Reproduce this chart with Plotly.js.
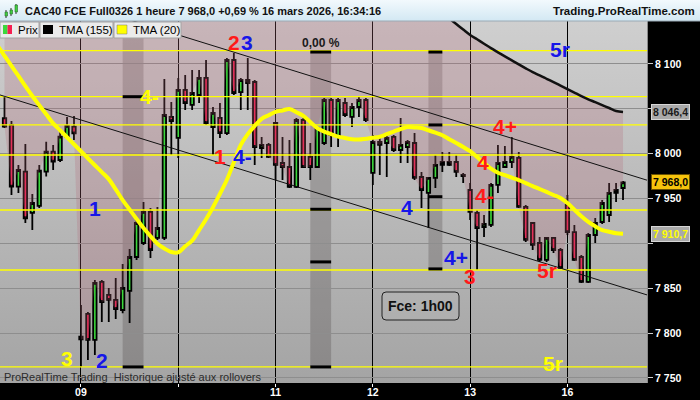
<!DOCTYPE html>
<html><head><meta charset="utf-8">
<script src="https://cdn.plot.ly/plotly-3.0.1.min.js"></script>
<style>
html,body{margin:0;padding:0;background:#000;}
#wrap{position:relative;width:700px;height:400px;overflow:hidden;background:#000;}
#hdr{position:absolute;left:0;top:0;width:700px;height:21px;background:linear-gradient(#f2f9fd,#d3e8f3);}
#bg{position:absolute;left:0;top:21px;width:647px;height:362px;background:linear-gradient(#cfcfcf,#a4a4a4);}
#chart{position:absolute;left:0;top:0;width:700px;height:400px;}
</style></head><body>
<div id="wrap"><div id="hdr"></div><div id="bg"></div><div id="chart"></div></div>
<script>
// ---------- data ----------
const dayTickIdx = [11, 25, 39, 53, 67, 81];
const dayTickText = ['09', '', '11', '12', '13', '16'];
const priceTicks = [7750, 7800, 7850, 7900, 7950, 8000, 8050, 8100];
const priceTickText = ['7 750', '7 800', '7 850', '', '7 950', '8 000', '', '8 100'];

const open = [8039.5,8032.0,7963.2,7979.9,7933.9,7941.7,7979.9,8002.2,7992.9,8018.9,8030.1,
 7796.0,7821.3,7792.3,7857.0,7842.5,7837.0,7825.7,7847.0,7884.8,7900.4,7935.0,7906.0,7906.0,8040.9,
 8017.5,8071.0,8054.3,8065.4,8084.4,8029.7,8039.8,8023.0,8104.4,8068.7,8082.1,8079.9,8006.3,8009.7,
 8034.2,7989.6,7985.1,7962.9,8037.5,7996.3,7985.1,8011.9,8059.8,8018.6,8056.5,8040.9,8052.0,8059.8,
 7978.5,8013.0,8011.9,8018.6,8004.1,8007.4,8011.9,7974.0,7956.2,7972.9,7987.4,7987.4,7990.7,7976.2,
 7959.5,7933.9,7918.2,7920.5,7965.1,7985.1,7990.7,7995.2,7940.6,7922.7,7900.4,7881.5,7906.0,7892.6,
 7942.8,7912.6,7884.8,7857.0,7909.3,7923.8,7931.6,7956.2,7961.7];
const high = [8063.5,8036.4,7987.4,8010.8,7955.0,7987.4,8013.4,8009.7,8026.4,8040.9,8042.0,
 7831.3,7823.5,7859.2,7859.2,7850.3,7861.4,7877.0,7893.7,7928.3,7946.1,7939.5,7940.6,8083.2,8057.6,
 8084.4,8087.7,8093.3,8093.3,8104.4,8052.0,8056.5,8106.7,8112.2,8084.4,8106.7,8082.1,8018.6,8011.9,
 8035.3,8018.6,8015.2,8039.8,8039.8,8011.9,8029.7,8062.1,8062.1,8062.1,8062.1,8056.5,8063.2,8062.1,
 8020.8,8020.8,8020.8,8020.8,8039.8,8015.2,8023.0,7979.6,7974.0,7998.5,8001.9,8001.9,7998.5,7978.5,
 7967.3,7937.2,7931.6,7967.3,8009.7,8008.6,8018.6,8001.9,7942.8,7923.8,7907.1,7907.1,7907.1,7894.8,
 7953.9,7920.5,7887.0,7911.5,7928.3,7948.4,7967.3,7967.3,7969.6];
const low = [8028.6,7953.9,7956.2,7922.7,7914.9,7939.5,7974.4,7981.8,7990.7,8017.5,8015.2,
 7762.2,7770.0,7775.6,7812.3,7812.3,7815.7,7822.0,7811.2,7881.5,7898.2,7883.7,7903.8,7903.8,7998.5,
 7995.2,8048.7,8048.7,8056.5,8032.0,7998.5,8017.5,8020.8,8065.4,8048.7,8048.7,7987.4,7995.2,7995.2,
 7970.7,7970.7,7961.7,7961.7,7984.0,7970.7,7984.0,8009.7,8007.4,8007.4,8040.9,8029.7,8040.9,8035.3,
 7965.1,7976.2,7974.0,8001.9,7989.6,7989.6,7970.7,7939.5,7917.1,7961.7,7979.6,7986.3,7974.0,7967.3,
 7926.1,7870.3,7907.1,7918.2,7956.2,7984.0,7984.0,7939.5,7901.5,7892.6,7879.3,7879.3,7889.3,7871.5,
 7909.3,7880.4,7855.9,7855.9,7900.4,7921.6,7923.8,7946.1,7948.4];
const close = [8030.1,7963.2,7981.8,7928.0,7945.0,7981.0,8002.2,7991.1,8018.9,8030.9,8022.7,
 7793.0,7792.3,7855.9,7834.6,7837.0,7826.8,7850.3,7884.8,7922.7,7935.0,7892.6,7917.1,8043.1,8036.4,
 8071.0,8056.5,8067.6,8084.4,8034.2,8045.4,8023.0,8104.4,8067.6,8082.1,8078.8,8007.4,8009.7,7996.3,
 7987.4,7985.1,7962.9,8037.5,7985.1,7985.1,8028.6,8059.8,8020.8,8059.8,8043.1,8052.0,8059.8,8037.5,
 8013.0,8009.7,8017.5,8004.1,8009.7,8013.0,7972.9,7959.5,7972.9,7987.4,7990.7,7990.7,7979.6,7975.1,
 7935.0,7917.1,7921.6,7965.1,7989.6,7990.7,7996.3,7940.6,7903.8,7898.2,7881.5,7906.0,7892.6,7872.6,
 7912.6,7881.5,7857.0,7909.3,7922.7,7945.0,7956.2,7959.5,7968.0];

// TMA(20), first value sits one bar before the first candle
const tma20 = [8120.4,8109.1,8097.8,8086.7,8075.3,8064.3,8054.0,8043.9,8033.7,8026.1,8018.3,8010.5,
 8002.7,7994.9,7987.1,7979.4,7971.6,7960.2,7948.3,7937.8,7927.3,7917.0,7908.1,7899.6,7894.3,7890.4,
 7890.0,7896.8,7903.1,7914.8,7926.9,7940.3,7955.3,7970.9,7990.4,8009.7,8021.8,8031.0,8038.8,8042.9,
 8046.7,8048.2,8049.8,8046.2,8042.2,8035.4,8028.5,8024.5,8021.8,8019.0,8017.5,8016.0,8015.7,8016.7,
 8017.7,8018.9,8021.7,8024.6,8027.5,8029.6,8029.2,8028.6,8026.1,8023.4,8020.5,8016.1,8011.8,8007.5,
 8002.7,7996.2,7989.5,7983.2,7978.7,7976.0,7973.2,7970.5,7967.2,7963.8,7960.6,7957.3,7953.9,7950.6,
 7944.9,7937.5,7930.1,7923.9,7919.0,7914.7,7913.0,7911.3,7910.7];
// TMA(155), visible part only (starts at bar 63)
const tma155Start = 63;
const tma155 = [8156.8,8150.7,8144.6,8138.4,8132.4,8127.5,8122.6,8117.6,8113.0,8108.5,8104.0,8099.5,
 8095.1,8090.9,8087.3,8083.5,8079.7,8075.9,8072.0,8068.1,8064.2,8060.6,8057.4,8054.1,8050.9,8047.6,8046.4];

const pivotLevels = [8114.8, 8063.5, 8032.0, 7998.5, 7937.2, 7870.3, 7762.2];
const channelIdx = [-1, 93];
const channelUpper = [8194.8, 7969.1];
const channelLower = [8066.3, 7841.2];

const bandStart = [17, 44, 61];
const bandEnd = [20, 47, 63];
const bandTop = [8150, 8113.3, 8113.3];
const bandBottom = [7762.2, 7762.2, 7871.5];
const bandMarks = [[8063.5, 7762.2], [8113.3, 7938.0, 7879.3, 7762.2], [8113.3, 8032.0, 7952.0, 7871.5]];

const labelText = ['4-','1','3','2','2','3','1','4-','4','4+','3','4','4-','4+','5r','5r','5r'];
const labelIdx  = [20.9,13.0,9.0,14.0,33.0,34.9,31.0,34.2,57.9,65.0,67.0,68.9,69.0,72.0,79.9,78.1,78.9];
const labelVal  = [8063.2,7939.1,7772.0,7769.0,8123.4,8123.4,7996.3,7996.3,7940.5,7883.7,7863.6,7990.7,7953.9,8030.8,8115.6,7869.2,7766.5];
const labelColor= ['#ffff00','#1616e8','#ffff00','#1616e8','#ff1a1a','#1616e8','#ff1a1a','#1616e8','#1616e8','#1616e8','#ff1a1a','#ff1a1a','#ff1a1a','#ff1a1a','#1616e8','#ff1a1a','#ffff00'];

const headerText = 'CAC40 FCE Full0326 1 heure 7 968,0 +0,69 % 16 mars 2026, 16:34:16';
const siteText = 'Trading.ProRealTime.com';
const footText = 'ProRealTime Trading\u00a0 Historique ajusté aux rollovers';
const gapText = '0,00 %';
const gapIdx = 45.5, gapVal = 8123.4;
const boxText = 'Fce: 1h00';

// ---------- helpers ----------
const fam = 'Arial, "Liberation Sans", sans-serif';
const M = {l:0, r:53, t:21, b:17};
const PW = 700 - M.l - M.r, PH = 400 - M.t - M.b;
const X = x => (x - M.l) / PW;
const Y = y => (400 - M.b - y) / PH;
const yRange = [7744.3, 8147.9];
const xRange = [-0.65, 92.45];
function fr(v){ const s = v.toFixed(1).split('.'); return s[0].replace(/\B(?=(\d{3})+(?!\d))/g,' ') + ',' + s[1]; }
function rrect(x0,y0,x1,y1,r){
  return `M${X(x0+r)},${Y(y0)} L${X(x1-r)},${Y(y0)} Q${X(x1)},${Y(y0)} ${X(x1)},${Y(y0+r)} L${X(x1)},${Y(y1-r)} Q${X(x1)},${Y(y1)} ${X(x1-r)},${Y(y1)} L${X(x0+r)},${Y(y1)} Q${X(x0)},${Y(y1)} ${X(x0)},${Y(y1-r)} L${X(x0)},${Y(y0+r)} Q${X(x0)},${Y(y0)} ${X(x0+r)},${Y(y0)} Z`;
}

const idx = open.map((_, i) => i);
const tma20Idx = tma20.map((_, i) => i - 1);
const tma155Idx = tma155.map((_, i) => tma155Start + i);
const above = yRange[1] + 60;
const fillTop = idx.map(i => (i >= tma155Start ? tma155[i - tma155Start] : above));

// ---------- traces ----------
const traces = [];
traces.push({type:'scatter', mode:'lines', x: idx, y: fillTop, line:{width:0}, hoverinfo:'skip', showlegend:false});
traces.push({type:'scatter', mode:'lines', x: idx, y: close, fill:'tonexty', fillcolor:'rgba(178,102,118,0.25)', line:{width:0}, hoverinfo:'skip', showlegend:false});
pivotLevels.forEach(l => traces.push({type:'scatter', mode:'lines', x:[-1,93], y:[l,l], line:{color:'#ffff00', width:1.3}, hoverinfo:'skip', showlegend:false}));
traces.push({type:'scatter', mode:'lines', x: channelIdx, y: channelUpper, line:{color:'#111', width:1}, hoverinfo:'skip', showlegend:false});
traces.push({type:'scatter', mode:'lines', x: channelIdx, y: channelLower, line:{color:'#111', width:1}, hoverinfo:'skip', showlegend:false});
traces.push({type:'scatter', mode:'lines', x: tma155Idx, y: tma155, line:{color:'#111', width:2.5, shape:'spline'}, hoverinfo:'skip', showlegend:false});
traces.push({type:'candlestick', x: idx, open, high, low, close,
  increasing:{line:{color:'#000', width:1.8}, fillcolor:'#3cd83c'},
  decreasing:{line:{color:'#000', width:1.8}, fillcolor:'#f61e50'},
  whiskerwidth:0, hoverinfo:'skip', showlegend:false});
traces.push({type:'scatter', mode:'lines', x: tma20Idx, y: tma20, line:{color:'#ffff00', width:4, shape:'spline'}, hoverinfo:'skip', showlegend:false});

// ---------- shapes ----------
const shapes = [];
bandStart.forEach((s, k) => {
  shapes.push({type:'rect', xref:'x', yref:'y', x0:s, x1:bandEnd[k], y0:bandBottom[k], y1:bandTop[k], fillcolor:'rgba(45,35,35,0.22)', line:{width:0}, layer:'below'});
  bandMarks[k].forEach(m => shapes.push({type:'line', xref:'x', yref:'y', x0:s, x1:bandEnd[k], y0:m, y1:m, line:{color:'#000', width:3}}));
});
// legend row
[[0,39],[40,113],[114,181]].forEach(b => shapes.push({type:'rect', xref:'paper', yref:'paper', x0:X(b[0]), x1:X(b[1]), y0:Y(38), y1:Y(22), fillcolor:'#ebebeb', line:{color:'#a3a3a3', width:1}}));
shapes.push({type:'rect', xref:'paper', yref:'paper', x0:X(3), x1:X(7.5), y0:Y(34), y1:Y(25), fillcolor:'#3cd83c', line:{width:0}});
shapes.push({type:'rect', xref:'paper', yref:'paper', x0:X(7.5), x1:X(12), y0:Y(34), y1:Y(25), fillcolor:'#f61e50', line:{width:0}});
shapes.push({type:'rect', xref:'paper', yref:'paper', x0:X(43), x1:X(53), y0:Y(34), y1:Y(25), fillcolor:'#000', line:{width:0}});
shapes.push({type:'rect', xref:'paper', yref:'paper', x0:X(117), x1:X(127), y0:Y(34), y1:Y(25), fillcolor:'#ffff00', line:{color:'#777', width:0.5}});
// header icon
[[6,10,18,5,7.5,12,16],[11,8,16,10,12.5,10,14],[16,4,14,15,17.5,5,12]].forEach(c => {
  shapes.push({type:'line', xref:'paper', yref:'paper', x0:X(c[0]), x1:X(c[0]), y0:Y(c[2]), y1:Y(c[1]), line:{color:'#333', width:1}});
  shapes.push({type:'rect', xref:'paper', yref:'paper', x0:X(c[3]), x1:X(c[4]), y0:Y(c[6]), y1:Y(c[5]), fillcolor:'#3fcf3f', line:{color:'#2a6a2a', width:0.6}});
});
shapes.push({type:'line', xref:'paper', yref:'paper', x0:0, x1:700/PW, y0:Y(21), y1:Y(21), line:{color:'#9aaab5', width:1}});
// info box
shapes.push({type:'path', xref:'paper', yref:'paper', path: rrect(382,292,459,320,4), line:{color:'#222', width:1}, fillcolor:'rgba(255,255,255,0.04)'});

// ---------- annotations ----------
const ann = [];
labelText.forEach((t, k) => ann.push({x:labelIdx[k], y:labelVal[k], xref:'x', yref:'y', text:t, showarrow:false, xanchor:'center', yanchor:'middle', font:{family:fam, size:21, color:labelColor[k], weight:'bold'}}));
ann.push({x:gapIdx, y:gapVal, xref:'x', yref:'y', text:gapText, showarrow:false, font:{family:fam, size:12, color:'#1a1a1a', weight:'bold'}});
ann.push({x:X(420.5), y:Y(306), xref:'paper', yref:'paper', text:boxText, showarrow:false, xanchor:'center', yanchor:'middle', font:{family:fam, size:14, color:'#111', weight:'bold'}});
ann.push({x:X(2), y:Y(377), xref:'paper', yref:'paper', text:footText, showarrow:false, xanchor:'left', yanchor:'middle', font:{family:fam, size:11, color:'#2b2b2b'}});
ann.push({x:X(23), y:Y(11), xref:'paper', yref:'paper', text:headerText, showarrow:false, xanchor:'left', yanchor:'middle', font:{family:fam, size:11, color:'#111', weight:'bold'}});
ann.push({x:X(697), y:Y(11), xref:'paper', yref:'paper', text:siteText, showarrow:false, xanchor:'right', yanchor:'middle', font:{family:fam, size:11.5, color:'#111', weight:'bold'}});
ann.push({x:X(16), y:Y(30.5), xref:'paper', yref:'paper', text:'Prix', showarrow:false, xanchor:'left', yanchor:'middle', font:{family:fam, size:11.5, color:'#000'}});
ann.push({x:X(57), y:Y(30.5), xref:'paper', yref:'paper', text:'TMA (155)', showarrow:false, xanchor:'left', yanchor:'middle', font:{family:fam, size:11.5, color:'#000'}});
ann.push({x:X(131), y:Y(30.5), xref:'paper', yref:'paper', text:'TMA (20)', showarrow:false, xanchor:'left', yanchor:'middle', font:{family:fam, size:11.5, color:'#000'}});
// right price tags
const lastTma155 = tma155[tma155.length-1], lastClose = close[close.length-1], lastTma20 = tma20[tma20.length-1];
[[lastTma155,'#a9a9a9','#1a1a1a','#d6d6d6'],[lastClose,'#f5c30c','#000','#6b5200'],[lastTma20,'#a9a9a9','#ffff00','#d6d6d6']].forEach(p => {
  ann.push({x:1, y:p[0], xref:'paper', yref:'y', text:fr(p[0]), showarrow:false, xanchor:'left', yanchor:'middle', xshift:4,
    bgcolor:p[1], bordercolor:p[3], borderwidth:1, borderpad:1, font:{family:fam, size:10.5, color:p[2], weight:'bold'}});
});

const layout = {
  width:700, height:400, margin:M, paper_bgcolor:'rgba(0,0,0,0)', plot_bgcolor:'rgba(0,0,0,0)',
  separators:', ', showlegend:false, font:{family:fam},
  xaxis:{range:xRange, tickmode:'array', tickvals:dayTickIdx, ticktext:dayTickText, showgrid:true, gridcolor:'#000', gridwidth:1,
    zeroline:false, showline:false, ticks:'outside', ticklen:3, tickcolor:'#fff', ticklabelstandoff:-4,
    tickfont:{family:fam, size:10.5, color:'#fff', weight:'bold'},
    rangeslider:{visible:false}, fixedrange:true},
  yaxis:{range:yRange, side:'right', tickmode:'array', tickvals:priceTicks, ticktext:priceTickText, showgrid:true, gridcolor:'#8e8e8e', gridwidth:1,
    zeroline:false, showline:true, linecolor:'#8a8a8a', ticks:'outside', ticklen:5, tickcolor:'#cfcfcf',
    tickfont:{family:fam, size:10.5, color:'#fff', weight:'bold'}, fixedrange:true},
  shapes, annotations: ann
};
Plotly.newPlot('chart', traces, layout, {staticPlot:true, displayModeBar:false});
</script>
</body></html>
